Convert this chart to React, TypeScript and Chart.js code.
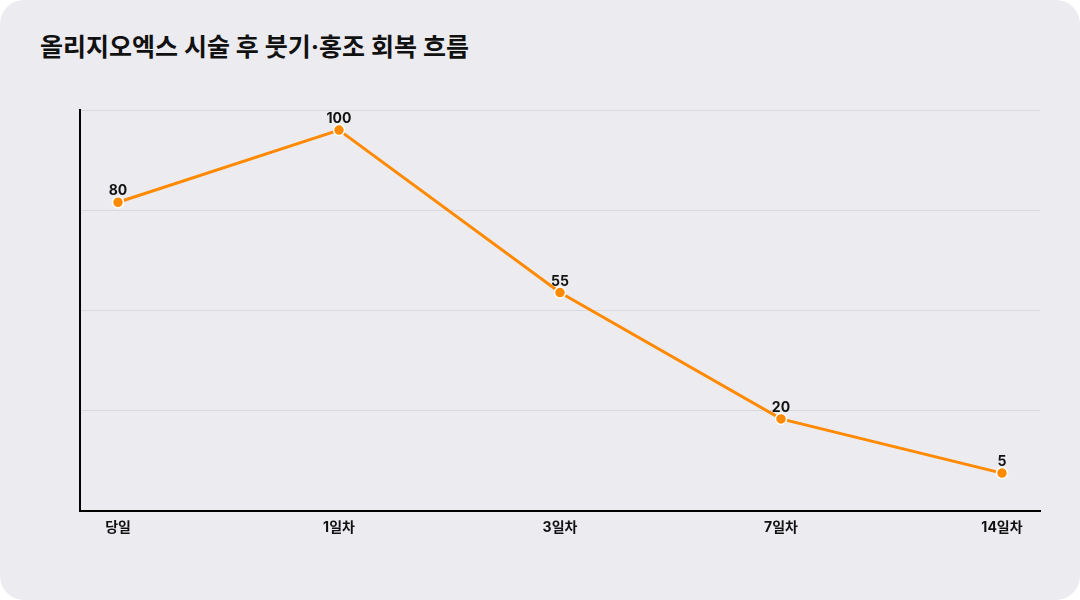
import React, { useEffect, useRef } from "react";
import { Chart, registerables } from "chart.js";

Chart.register(...registerables);

const title = "올리지오엑스 시술 후 붓기·홍조 회복 흐름";
const categories = ["당일", "1일차", "3일차", "7일차", "14일차"];
const swellingValues = [80, 100, 55, 20, 5];

const FONT = "Inter, 'Noto Sans CJK KR', 'Noto Sans', sans-serif";
const ORANGE = "#FF8A00";

const valueLabelPlugin = {
  id: "valueLabels",
  afterDatasetsDraw(chart: any) {
    const ctx = chart.ctx;
    const meta = chart.getDatasetMeta(0);
    ctx.save();
    ctx.font = `bold 14px ${FONT}`;
    ctx.fillStyle = "#111111";
    ctx.textAlign = "center";
    ctx.textBaseline = "bottom";
    meta.data.forEach((pt: any, i: number) => {
      ctx.fillText(String(swellingValues[i]), pt.x, pt.y - 4);
    });
    ctx.restore();
  },
};

export default function App() {
  const ref = useRef<HTMLCanvasElement | null>(null);

  useEffect(() => {
    document.body.style.margin = "0";
    document.body.style.background = "#ffffff";
    const canvas = ref.current;
    if (!canvas) return;
    const chart = new Chart(canvas, {
      type: "line",
      data: {
        datasets: [
          {
            data: swellingValues.map((v, i) => ({ x: i, y: v })),
            borderColor: ORANGE,
            backgroundColor: ORANGE,
            borderWidth: 3,
            pointRadius: 5.5,
            pointBackgroundColor: ORANGE,
            pointBorderColor: "#ffffff",
            pointBorderWidth: 1.5,
            tension: 0,
          },
        ],
      },
      options: {
        animation: false,
        responsive: false,
        maintainAspectRatio: false,
        layout: { padding: { left: 80, right: 40, top: 110, bottom: 56 } },
        plugins: {
          legend: { display: false },
          tooltip: { enabled: false },
          title: { display: false },
        },
        scales: {
          x: {
            type: "linear",
            min: -0.172,
            max: 4.172,
            afterBuildTicks: (scale: any) => {
              scale.ticks = categories.map((_, i) => ({ value: i }));
            },
            grid: { display: false, drawTicks: false },
            border: { display: true, color: "#000000", width: 2 },
            ticks: {
              padding: 8,
              color: "#111111",
              font: { family: FONT, size: 14, weight: "bold" },
              callback: (v: any) => categories[v] ?? "",
              maxRotation: 0,
              autoSkip: false,
            },
          },
          y: {
            min: -50 / 9,
            max: 950 / 9,
            ticks: { display: false, count: 5 },
            grid: { color: "#d9d8dd", lineWidth: 1, drawTicks: false },
            border: { display: true, color: "#000000", width: 2 },
          },
        },
      },
      plugins: [valueLabelPlugin],
    } as any);
    return () => chart.destroy();
  }, []);

  return (
    <div
      style={{
        position: "relative",
        width: 1080,
        height: 600,
        borderRadius: 24,
        background: "#ECEBF0",
        overflow: "hidden",
      }}
    >
      <div
        style={{
          position: "absolute",
          left: 40,
          top: 29,
          fontFamily: FONT,
          fontWeight: 700,
          fontSize: 25,
          color: "#111111",
          lineHeight: "36px",
        }}
      >
        {title}
      </div>
      <canvas ref={ref} width={1080} height={600} style={{ position: "absolute", left: 0, top: 0, width: 1080, height: 600 }} />
    </div>
  );
}
